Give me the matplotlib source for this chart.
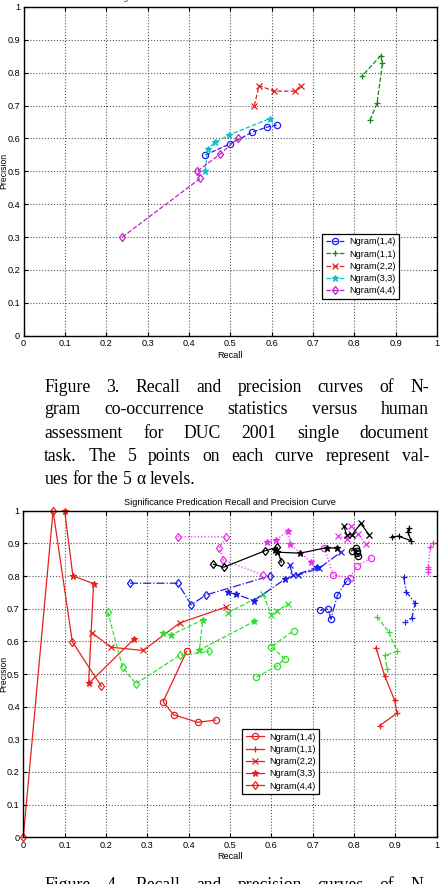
import matplotlib
matplotlib.use("Agg")
import matplotlib.pyplot as plt

labels = ["Ngram(1,4)", "Ngram(1,1)", "Ngram(2,2)", "Ngram(3,3)", "Ngram(4,4)"]
markers = ["o", "+", "x", "*", "d"]
ticks = [0, 0.1, 0.2, 0.3, 0.4, 0.5, 0.6, 0.7, 0.8, 0.9, 1]
tick_labels = ["0", "0.1", "0.2", "0.3", "0.4", "0.5", "0.6", "0.7", "0.8", "0.9", "1"]

# Figure 3: one recall/precision curve per ngram setting
fig3_recall = [
    [0.44, 0.50, 0.553, 0.59, 0.614],
    [0.838, 0.855, 0.868, 0.864, 0.818],
    [0.558, 0.570, 0.605, 0.657, 0.670],
    [0.439, 0.446, 0.464, 0.498, 0.595],
    [0.239, 0.428, 0.420, 0.476, 0.518],
]
fig3_precision = [
    [0.55, 0.584, 0.619, 0.635, 0.641],
    [0.656, 0.707, 0.829, 0.852, 0.789],
    [0.70, 0.761, 0.744, 0.744, 0.761],
    [0.50, 0.569, 0.589, 0.611, 0.660],
    [0.30, 0.479, 0.50, 0.553, 0.600],
]

# Figure 4: five groups (red, green, blue, magenta, black), each with the 5 ngram settings
red_recall = [
    [0.395, 0.338, 0.364, 0.422, 0.465],
    [0.853, 0.874, 0.898, 0.904, 0.862],
    [0.1665, 0.212, 0.290, 0.378, 0.490],
    [0.100, 0.120, 0.170, 0.158, 0.268],
    [0.0, 0.072, 0.1185, 0.189],
]
red_precision = [
    [0.569, 0.415, 0.375, 0.352, 0.359],
    [0.581, 0.495, 0.420, 0.380, 0.342],
    [0.626, 0.582, 0.572, 0.656, 0.705],
    [1.0, 0.80, 0.777, 0.471, 0.607],
    [0.0, 1.0, 0.599, 0.462],
]
green_recall = [
    [0.564, 0.614, 0.632, 0.600, 0.654],
    [0.856, 0.884, 0.904, 0.875, 0.880],
    [0.496, 0.580, 0.600, 0.614, 0.640],
    [0.338, 0.358, 0.434, 0.426, 0.558],
    [0.204, 0.240, 0.272, 0.378, 0.450],
]
green_precision = [
    [0.491, 0.524, 0.547, 0.584, 0.632],
    [0.676, 0.628, 0.569, 0.557, 0.514],
    [0.688, 0.744, 0.681, 0.693, 0.714],
    [0.627, 0.620, 0.666, 0.573, 0.661],
    [0.691, 0.521, 0.470, 0.557, 0.569],
]
blue_recall = [
    [0.718, 0.738, 0.744, 0.760, 0.782],
    [0.920, 0.926, 0.948, 0.940, 0.924],
    [0.644, 0.652, 0.665, 0.716, 0.768],
    [0.496, 0.514, 0.558, 0.634, 0.710],
    [0.258, 0.374, 0.406, 0.442, 0.596],
]
blue_precision = [
    [0.695, 0.699, 0.668, 0.742, 0.785],
    [0.798, 0.752, 0.717, 0.671, 0.659],
    [0.834, 0.803, 0.803, 0.824, 0.873],
    [0.750, 0.744, 0.725, 0.791, 0.827],
    [0.778, 0.778, 0.712, 0.742, 0.800],
]
magenta_recall = [
    [0.728, 0.750, 0.790, 0.808, 0.840],
    [0.980, 0.980, 0.980, 0.984, 0.992],
    [0.762, 0.782, 0.792, 0.810, 0.828],
    [0.590, 0.612, 0.640, 0.646, 0.696],
    [0.374, 0.490, 0.474, 0.484, 0.580],
]
magenta_precision = [
    [0.885, 0.803, 0.795, 0.832, 0.854],
    [0.811, 0.820, 0.829, 0.888, 0.902],
    [0.924, 0.913, 0.953, 0.929, 0.897],
    [0.905, 0.910, 0.939, 0.897, 0.842],
    [0.920, 0.920, 0.885, 0.849, 0.803],
]
black_recall = [
    [0.794, 0.804, 0.806, 0.806, 0.810],
    [0.891, 0.908, 0.938, 0.930, 0.932],
    [0.776, 0.782, 0.796, 0.816, 0.836],
    [0.610, 0.614, 0.670, 0.734, 0.760],
    [0.460, 0.485, 0.584, 0.614, 0.624],
]
black_precision = [
    [0.877, 0.885, 0.878, 0.870, 0.862],
    [0.920, 0.922, 0.908, 0.936, 0.946],
    [0.953, 0.925, 0.927, 0.961, 0.927],
    [0.880, 0.873, 0.870, 0.887, 0.885],
    [0.836, 0.827, 0.877, 0.888, 0.842],
]

caption3 = [
    "Figure 3. Recall and precision curves of N-",
    "gram co-occurrence statistics versus human",
    "assessment for DUC 2001 single document",
    "task. The 5 points on each curve represent val-",
    "ues for the 5 \u03b1 levels.",
]
caption4 = ["Figure 4. Recall and precision curves of N-"]
title = "Significance Predication Recall and Precision Curve"

W, H = 442, 884
SANS = "Liberation Sans"
FS = 6.6

fig = plt.figure(figsize=(W / 100, H / 100), dpi=100)


def style_axes(ax):
    ax.set_xlim(0, 1)
    ax.set_ylim(0, 1)
    ax.set_xticks(ticks)
    ax.set_yticks(ticks)
    ax.set_xticklabels(tick_labels, fontfamily=SANS, fontsize=FS)
    ax.set_yticklabels(tick_labels, fontfamily=SANS, fontsize=FS)
    ax.tick_params(direction="in", length=3, width=0.8, top=True, right=True, pad=2.5)
    ax.grid(True, linestyle=":", color="0.35", linewidth=0.8)
    for s in ax.spines.values():
        s.set_linewidth(1.0)
    ax.set_xlabel("Recall", fontfamily=SANS, fontsize=FS)
    ax.set_ylabel("Precision", fontfamily=SANS, fontsize=6.2)
    ax.xaxis.set_label_coords(0.5, -0.06)
    ax.xaxis.label.set_va("center")
    ax.yaxis.set_label_coords(-0.048, 0.5)
    ax.yaxis.label.set_va("center")


# ---- Figure 3 ----
ax1 = fig.add_axes([23.5 / W, 1 - 335.7 / H, 413.5 / W, 328.7 / H])
colors3 = ["#1f1ff0", "#108a10", "#e42020", "#10c0c8", "#c020c8"]
for i in range(5):
    ax1.plot(fig3_recall[i], fig3_precision[i], linestyle="--", color=colors3[i],
             marker=markers[i], mfc="none" if markers[i] in "od" else colors3[i],
             ms=4.5, mew=0.9, lw=0.9, label=labels[i])
style_axes(ax1)
leg = ax1.legend(loc="lower right", bbox_to_anchor=(0.908, 0.112), borderaxespad=0,
                 prop={"family": SANS, "size": FS}, fancybox=False, framealpha=1,
                 handlelength=2.0, labelspacing=0.35, borderpad=0.4, handletextpad=0.5)
leg.get_frame().set_edgecolor("black")
leg.get_frame().set_linewidth(0.9)
# title of the upper chart is mostly cut off by the page edge
fig.text(0.5, 1 + 3.0 / H, title, ha="center", va="center", fontfamily=SANS,
         fontsize=FS, color="0.3")

# ---- Figure 4 ----
ax2 = fig.add_axes([23.3 / W, 1 - 837.3 / H, 413.4 / W, 326.6 / H])
groups = [
    (red_recall, red_precision, "#e8201c", "-"),
    (green_recall, green_precision, "#2ee02e", "--"),
    (blue_recall, blue_precision, "#1c1ce8", "-."),
    (magenta_recall, magenta_precision, "#f02cf0", ":"),
    (black_recall, black_precision, "black", "-"),
]
handles = []
for rec, prec, col, ls in groups:
    for i in range(5):
        h, = ax2.plot(rec[i], prec[i], linestyle=ls, color=col, marker=markers[i],
                      mfc="none" if markers[i] in "od" else col,
                      ms=4.5, mew=0.9, lw=0.9, clip_on=False)
        handles.append(h)
style_axes(ax2)
leg2 = ax2.legend(handles[:5], labels, loc="lower left", bbox_to_anchor=(0.53, 0.132),
                  borderaxespad=0, prop={"family": SANS, "size": FS}, fancybox=False,
                  framealpha=1, handlelength=2.0, labelspacing=0.35, borderpad=0.4,
                  handletextpad=0.5)
leg2.get_frame().set_edgecolor("black")
leg2.get_frame().set_linewidth(0.9)
ax2.set_title(title, fontfamily=SANS, fontsize=FS, pad=4)


# ---- captions (justified serif text) ----
renderer = fig.canvas.get_renderer()


def put_line(text, y_px, left=44.3, right=429.0, last=False, size=12.7):
    words = text.split(" ")
    objs = [fig.text(0, 1 - y_px / H, w, fontfamily="Liberation Serif", fontsize=size,
                     va="baseline", ha="left") for w in words]
    widths = [o.get_window_extent(renderer).width for o in objs]
    if last or len(words) == 1:
        gap = size * 100 / 72 * 0.25
    else:
        gap = (right - left - sum(widths)) / (len(words) - 1)
    x = left
    for o, w in zip(objs, widths):
        o.set_x(x / W)
        x += w + gap


bases = [391.7, 414.5, 437.5, 460.5, 484.0]
for k, line in enumerate(caption3):
    put_line(line, bases[k], last=(k == len(caption3) - 1))
put_line(caption4[0], 890.0)

fig.savefig("out.png", dpi=100)
